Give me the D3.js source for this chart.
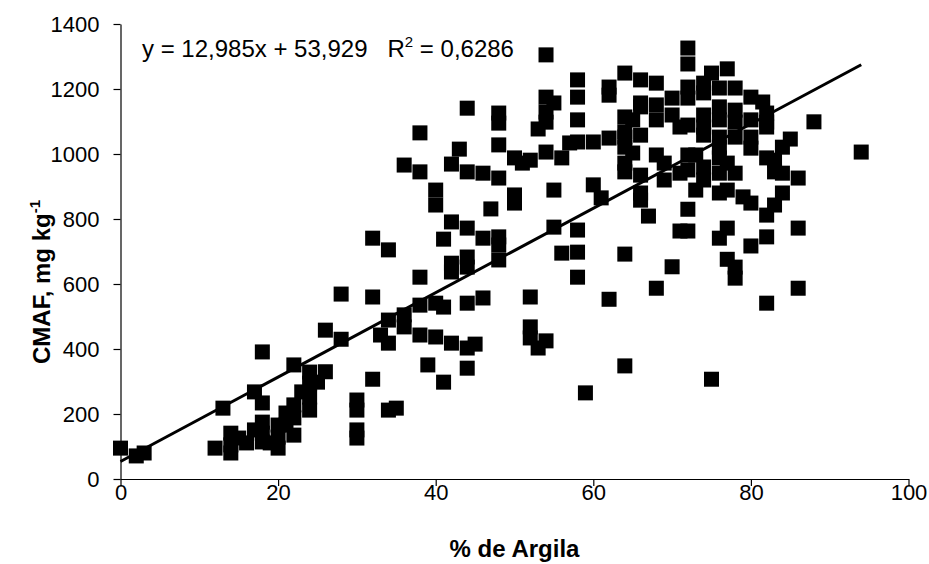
<!DOCTYPE html>
<html>
<head>
<meta charset="utf-8">
<script src="https://cdn.jsdelivr.net/npm/d3@7"></script>
<style>
  html, body { margin: 0; padding: 0; background: #fff; }
  svg { display: block; }
  text { font-family: "Liberation Sans", Arial, sans-serif; fill: #000; }
</style>
</head>
<body>
<svg id="chart" width="929" height="564"></svg>
<script>
// ---- data ----
const argila = [
  0,2,3,12,13,14,14,14,15,16,17,17,18,18,18,18,18,19,20,20,20,21,21,22,22,22,22,23,24,24,24,24,25,26,26,28,28,
  30,30,30,30,32,32,32,33,34,34,34,34,35,36,36,36,38,38,38,38,38,39,40,40,40,40,41,41,41,42,42,42,42,42,43,
  44,44,44,44,44,44,44,44,45,46,46,46,47,48,48,48,48,48,48,48,50,50,50,51,52,52,52,52,53,53,54,54,54,54,54,54,
  55,55,55,56,56,57,58,58,58,58,58,58,58,59,60,60,61,62,62,62,62,
  64,64,64,64,64,64,64,64,64,65,65,66,66,66,66,66,66,66,67,68,68,68,68,68,69,69,70,70,70,71,71,71,
  72,72,72,72,72,72,72,72,72,73,73,74,74,74,74,74,74,74,75,75,76,76,76,76,76,76,76,76,76,
  77,77,77,77,77,78,78,78,78,78,78,78,79,80,80,80,80,80,80,81.5,82,82,82,82,82,82,82,83,83,83,84,84,84,85,86,86,86,88,94
];
const cmaf = [
  95,71,80,95,218,141,105,80,126,111,268,151,391,234,175,141,114,111,166,129,95,203,166,351,228,188,135,268,329,295,252,212,298,330,458,430,569,
  243,212,151,126,307,560,741,443,489,418,705,212,218,505,468,966,1065,945,621,535,443,351,889,843,541,437,738,529,298,969,791,664,637,418,1015,
  1141,945,772,683,652,541,403,341,415,941,741,557,831,1126,1095,1028,926,745,720,674,988,874,849,972,981,560,468,434,1077,403,1305,1175,1129,1098,1006,425,
  1157,889,775,988,695,1034,1228,1175,1105,1037,766,698,621,265,1037,905,865,1206,1181,1049,553,
  1249,1114,1068,1052,1021,972,945,692,348,1105,1003,1228,1157,1145,1058,935,880,858,809,1218,1151,1105,997,587,972,920,1172,1120,653,1083,941,763,
  1326,1277,1206,1172,1089,997,951,830,763,997,889,1218,1188,1120,1083,1058,960,920,1249,307,1203,1145,1105,1052,1021,988,941,880,741,
  1262,972,889,772,676,1203,1135,1098,1052,941,652,618,868,1175,1105,1052,1018,849,717,1160,1126,1098,1083,988,812,745,541,981,945,843,1021,941,880,1046,926,772,587,1099,1006
];
const xTicks = [0, 20, 40, 60, 80, 100];
const yTicks = [0, 200, 400, 600, 800, 1000, 1200, 1400];
const slope = 12.985;
const intercept = 53.929;
const fitRange = [0, 94];
const xTitle = "% de Argila";
const yTitle = "CMAF, mg kg";
const eqText = "y = 12,985x + 53,929";
const r2Text = "0,6286";

// ---- layout ----
const svg = d3.select("#chart");
const x = d3.scaleLinear().domain([0, 100]).range([120.5, 908.5]);
const y = d3.scaleLinear().domain([0, 1400]).range([479, 24]);

const xAxis = d3.axisBottom(x).tickValues(xTicks).tickSize(7).tickSizeOuter(0).tickFormat(d3.format("d"));
const yAxis = d3.axisLeft(y).tickValues(yTicks).tickSize(7).tickSizeOuter(0).tickFormat(d3.format("d"));

const gx = svg.append("g").attr("transform", `translate(0,${y(0)})`).call(xAxis);
const gy = svg.append("g").attr("transform", `translate(${x(0)},0)`).call(yAxis);
[gx, gy].forEach(g => {
  g.select(".domain").attr("stroke", "#000").attr("stroke-width", 1.2);
  g.selectAll(".tick line").attr("stroke", "#000").attr("stroke-width", 1.2);
  g.selectAll(".tick text").attr("font-size", 22).attr("font-family", "Liberation Sans, Arial, sans-serif").attr("fill", "#000");
});
gx.selectAll(".tick text").attr("y", 5).attr("dy", "0.71em");
gy.selectAll(".tick text").attr("x", -21);

// points
const pts = argila.map((a, i) => [a, cmaf[i]]);
const s = 15;
svg.append("g").selectAll("rect").data(pts).join("rect")
  .attr("x", d => x(d[0]) - s / 2)
  .attr("y", d => y(d[1]) - s / 2)
  .attr("width", s).attr("height", s)
  .attr("fill", "#000");

// regression line
svg.append("line")
  .attr("x1", x(fitRange[0])).attr("y1", y(slope * fitRange[0] + intercept))
  .attr("x2", x(fitRange[1])).attr("y2", y(slope * fitRange[1] + intercept))
  .attr("stroke", "#000").attr("stroke-width", 3);

// equation
const eq = svg.append("text").attr("x", 142).attr("y", 57).attr("font-size", 24).attr("xml:space", "preserve");
eq.append("tspan").text(eqText + "   R");
eq.append("tspan").attr("font-size", 15).attr("dy", -10).text("2");
eq.append("tspan").attr("dy", 10).text(" = " + r2Text);

// axis titles
svg.append("text").attr("x", x(50)).attr("y", 557).attr("text-anchor", "middle")
  .attr("font-size", 24).attr("font-weight", "bold").text(xTitle);

const yt = svg.append("text").attr("transform", "translate(50,282) rotate(-90)")
  .attr("text-anchor", "middle").attr("font-size", 24).attr("font-weight", "bold");
yt.append("tspan").text(yTitle);
yt.append("tspan").attr("font-size", 15).attr("dy", -10).text("-1");
</script>
</body>
</html>
